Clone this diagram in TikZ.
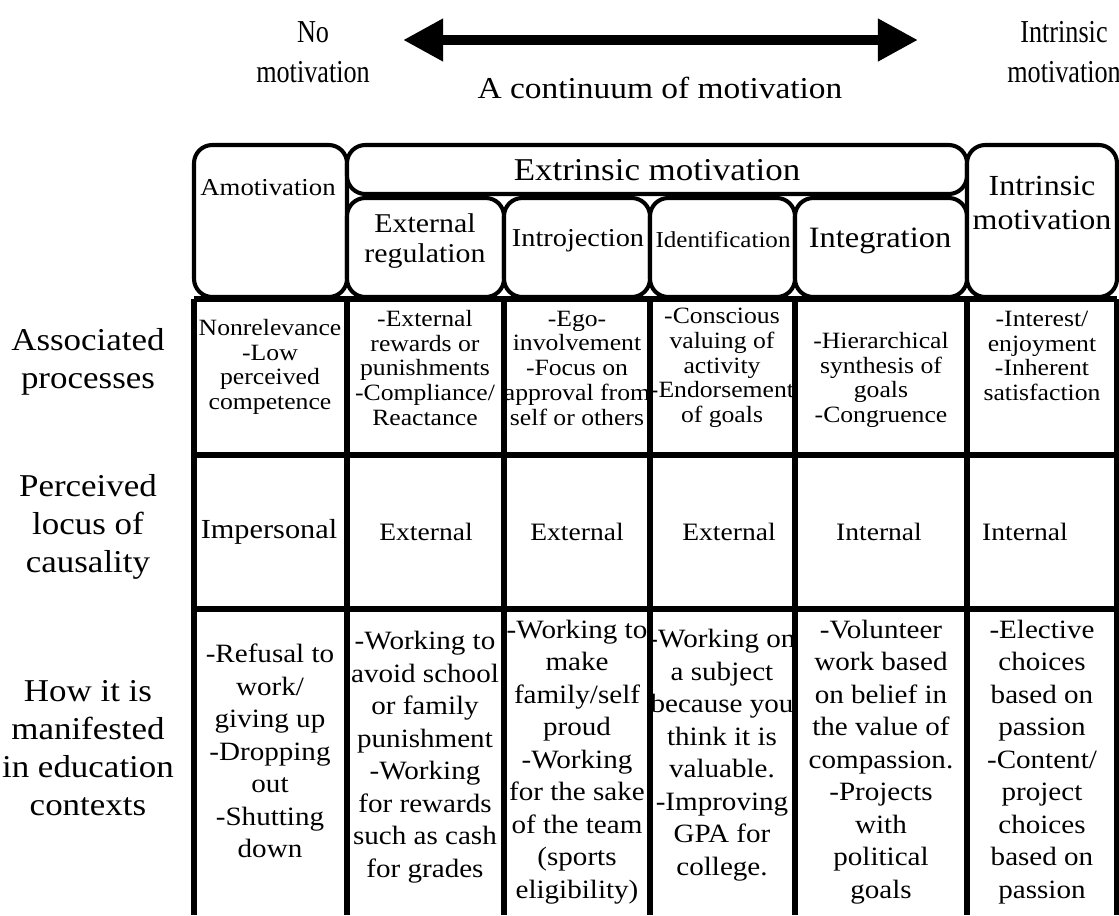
\documentclass[tikz,border=0pt]{standalone}
\usepackage{fontspec}
\setmainfont{Liberation Serif}[FakeStretch=1.1]
\newfontfamily\narrowserif{Liberation Serif}[FakeStretch=0.82]
\usetikzlibrary{arrows.meta, positioning}

\begin{document}
\begin{tikzpicture}[x=0.025cm, y=-0.025cm,
    toplabel/.style={align=center, inner sep=0pt, font=\narrowserif\fontsize{22.7}{28.5}\selectfont},
    rowlabel/.style={align=center, inner sep=0pt, font=\fontsize{22.6}{27}\selectfont},
    hbox/.style={draw, line width=2.9pt, rounded corners=13pt, fill=white},
    grid/.style={line width=3.6pt},
    headtext/.style={align=center, inner sep=0pt},
    proc/.style={align=center, inner sep=0pt, font=\fontsize{16.6}{17.6}\selectfont},
    locus/.style={inner sep=0pt, font=\fontsize{17.8}{22}\selectfont},
    manif/.style={align=center, inner sep=0pt, font=\fontsize{18.8}{23.1}\selectfont}
  ]
  \useasboundingbox (0,0) rectangle (1119,915);

  % continuum arrow
  \node (nomot) [toplabel] at (313,52) {No\\motivation};
  \node (intmot) [toplabel] at (1064,52) {Intrinsic\\motivation};
  \node (continuum) [toplabel, font=\fontsize{21.6}{28.5}\selectfont] at (660,88) {A continuum of motivation};
  \coordinate (lefttip) at (403,40);
  \coordinate (righttip) at (918,40);
  \draw [line width=7.1pt, {Triangle[length=28.5pt, width=28.5pt]}-{Triangle[length=28.5pt, width=28.5pt]}] (lefttip) -- (righttip);

  % table grid
  \foreach \y in {299,455,609}
    \draw [grid] (194,\y) -- (1117,\y);
  \foreach \x in {194,347,504,650,795,967,1117}
    \draw [grid] (\x,299) -- (\x,915);

  % header boxes
  \draw [hbox] (194,145) rectangle (347,297);
  \draw [hbox] (347,145) rectangle (967,194);
  \draw [hbox] (347,198) rectangle (504,297);
  \draw [hbox] (504,198) rectangle (650,297);
  \draw [hbox] (650,198) rectangle (795,297);
  \draw [hbox] (795,198) rectangle (967,297);
  \draw [hbox] (967,145) rectangle (1117,297);

  \node (amot) [headtext, font=\fontsize{17.3}{20}\selectfont] at (268,188) {Amotivation};
  \node (extr) [headtext, font=\fontsize{22.6}{26}\selectfont] at (657,170) {Extrinsic motivation};
  \node (extreg) [headtext, font=\fontsize{19.3}{21.3}\selectfont] at (425,241) {External\\regulation};
  \node (introj) [headtext, font=\fontsize{18.3}{21}\selectfont] at (578,241) {Introjection};
  \node (ident) [headtext, font=\fontsize{16.2}{20}\selectfont] at (723,240) {Identification};
  \node (integ) [headtext, font=\fontsize{21}{23}\selectfont] at (880,241) {Integration};
  \node (intr) [headtext, font=\fontsize{20.7}{24}\selectfont] at (1042,203) {Intrinsic\\motivation};

  % row labels
  \node (rowproc) [rowlabel] at (88,362) {Associated\\processes};
  \node (rowlocus) [rowlabel] at (88,527) {Perceived\\locus of\\causality};
  \node (rowmanif) [rowlabel] at (88,748) {How it is\\manifested\\in education\\contexts};

  % associated processes
  \node (procamot) [proc] at (270,367) {Nonrelevance\\-Low\\perceived\\competence};
  \node (procext) [proc] at (425,368) {-External\\rewards or\\punishments\\-Compliance/\\Reactance};
  \node (procintroj) [proc] at (577,368) {-Ego-\\involvement\\-Focus on\\approval from\\self or others};
  \node (procident) [proc] at (722,368) {-Conscious\\valuing of\\activity\\-Endorsement\\of goals};
  \node (procinteg) [proc] at (881,380) {-Hierarchical\\synthesis of\\goals\\-Congruence};
  \node (procintr) [proc] at (1042,356) {-Interest/\\enjoyment\\-Inherent\\satisfaction};

  % perceived locus of causality
  \node (locamot) [locus, font=\fontsize{19.6}{22}\selectfont] at (269,532) {Impersonal};
  \node (locext) [locus] at (426,532) {External};
  \node (locintroj) [locus] at (577,532) {External};
  \node (locident) [locus] at (729,532) {External};
  \node (locinteg) [locus] at (879,532) {Internal};
  \node (locintr) [locus] at (1025,532) {Internal};

  % education contexts
  \node (manamot) [manif] at (270,751) {-Refusal to\\work/\\giving up\\-Dropping\\out\\-Shutting\\down};
  \node (manext) [manif] at (425,757) {-Working to\\avoid school\\or family\\punishment\\-Working\\for rewards\\such as cash\\for grades};
  \node (manintroj) [manif] at (577,762) {-Working to\\make\\family/self\\proud\\-Working\\for the sake\\of the team\\(sports\\eligibility)};
  \node (manident) [manif] at (722,755) {-Working on\\a subject\\because you\\think it is\\valuable.\\-Improving\\GPA for\\college.};
  \node (maninteg) [manif] at (881,762) {-Volunteer\\work based\\on belief in\\the value of\\compassion.\\-Projects\\with\\political\\goals};
  \node (manintr) [manif] at (1042,762) {-Elective\\choices\\based on\\passion\\-Content/\\project\\choices\\based on\\passion};
\end{tikzpicture}
\end{document}
